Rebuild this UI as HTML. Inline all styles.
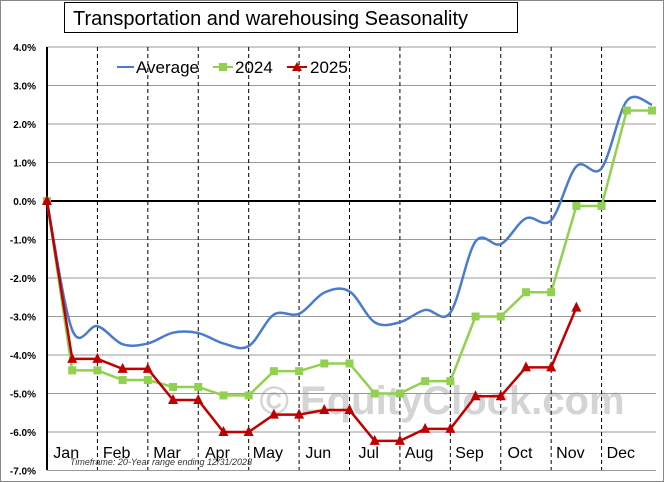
<!DOCTYPE html>
<html><head><meta charset="utf-8"><style>
body{margin:0;background:#fff;}
svg{font-family:"Liberation Sans",sans-serif;display:block}
</style></head><body>
<svg id="c" width="664" height="482">
<rect x="0.5" y="0.5" width="663" height="481" fill="#fff" stroke="#888"/>
<text x="442" y="414" font-size="40" font-weight="bold" fill="#d4d4d4" text-anchor="middle">© EquityClock.com</text>
<g id="grid"></g><g id="series"></g>
<rect x="64.5" y="2.5" width="453" height="30" fill="#fff" stroke="#000"/>
<text x="73" y="25" font-size="20" fill="#000">Transportation  and  warehousing Seasonality</text>
<g>
<line x1="117" y1="67" x2="134" y2="67" stroke="#4a7bd0" stroke-width="2"/>
<text x="136" y="73" font-size="17">Average</text>
<line x1="213" y1="67" x2="233" y2="67" stroke="#92d050" stroke-width="2"/>
<rect x="219" y="63" width="8" height="8" fill="#92d050"/>
<text x="235" y="73" font-size="17">2024</text>
<line x1="287" y1="67" x2="307" y2="67" stroke="#c00000" stroke-width="2"/>
<polygon points="297,62 302,71 292,71" fill="#c00000"/>
<text x="310" y="73" font-size="17">2025</text>
</g>
<text x="70" y="465" font-size="9" font-style="italic" fill="#333">Timeframe: 20-Year range ending 12/31/2023</text>
</svg>
<script>
const months=["Jan","Feb","Mar","Apr","May","Jun","Jul","Aug","Sep","Oct","Nov","Dec"];
const yTicks=[4,3,2,1,0,-1,-2,-3,-4,-5,-6,-7];
const avgVals=[0,-3.35,-3.25,-3.72,-3.7,-3.42,-3.43,-3.7,-3.77,-2.95,-2.93,-2.38,-2.35,-3.15,-3.15,-2.83,-2.9,-1.05,-1.12,-0.45,-0.5,0.9,0.85,2.6,2.5];
const vals2024=[0,-4.4,-4.4,-4.65,-4.65,-4.83,-4.83,-5.05,-5.05,-4.42,-4.42,-4.22,-4.22,-5.0,-5.0,-4.68,-4.68,-3.0,-3.0,-2.37,-2.37,-0.13,-0.13,2.35,2.35];
const vals2025=[0,-4.1,-4.1,-4.36,-4.36,-5.17,-5.17,-6.0,-6.0,-5.55,-5.55,-5.43,-5.43,-6.23,-6.23,-5.92,-5.92,-5.07,-5.07,-4.32,-4.32,-2.77];
const NS="http://www.w3.org/2000/svg";
const X0=47,X1=652,Y0=201,PPU=38.5;
const x=i=>X0+i*(X1-X0)/24;
const y=v=>Y0-v*PPU;
function mk(t,a,p){const e=document.createElementNS(NS,t);for(const k in a)e.setAttribute(k,a[k]);p.appendChild(e);return e;}
const g=document.getElementById('grid'),s=document.getElementById('series');
yTicks.forEach(v=>{
 const l=mk('line',{x1:X0,x2:656,y1:y(v),y2:y(v),stroke:v===0?'#000':'#999','stroke-width':v===0?2:1},g);
 
 
 const t=mk('text',{x:36,y:y(v)+4,'font-size':10,'font-weight':'bold','text-anchor':'end'},g);
 t.textContent=v.toFixed(1)+'%';
 
 
});
months.forEach((m,i)=>{
 if(i<11){const l=mk('line',{x1:x(2*i+2),x2:x(2*i+2),y1:47,y2:470,stroke:'#000','stroke-dasharray':'4,3'},g);
 
 }
 const t=mk('text',{x:x(2*i+1)-6,y:458,'font-size':16,'text-anchor':'middle'},g);
 t.textContent=m;
 
 
});
const ax=mk('line',{x1:X0,x2:X0,y1:47,y2:470,stroke:'#000','stroke-width':2},g);


// average smooth
let pts=avgVals.map((v,i)=>[x(i),y(v)]);
let d='M'+pts[0][0]+','+pts[0][1];
for(let i=0;i<pts.length-1;i++){const p0=pts[Math.max(0,i-1)],p1=pts[i],p2=pts[i+1],p3=pts[Math.min(pts.length-1,i+2)];
 d+=` C${p1[0]+(p2[0]-p0[0])/6},${p1[1]+(p2[1]-p0[1])/6} ${p2[0]-(p3[0]-p1[0])/6},${p2[1]-(p3[1]-p1[1])/6} ${p2[0]},${p2[1]}`;}
const av=mk('path',{d:d,fill:'none',stroke:'#4a7bd0','stroke-width':2.5},s);


function series(vals,col,name,marker){
 const pl=mk('polyline',{points:vals.map((v,i)=>x(i)+','+y(v)).join(' '),fill:'none',stroke:col,'stroke-width':2.5},s);
 
 
 vals.forEach((v,i)=>{let m;
  if(marker==='sq')m=mk('rect',{x:x(i)-4,y:y(v)-4,width:8,height:8,fill:col},s);
  else m=mk('polygon',{points:`${x(i)},${y(v)-6} ${x(i)+5},${y(v)+4} ${x(i)-5},${y(v)+4}`,fill:col},s);
  
  
 });
}
series(vals2024,'#92d050','series-2024','sq');
series(vals2025,'#c00000','series-2025','tri');
</script>
</body></html>
